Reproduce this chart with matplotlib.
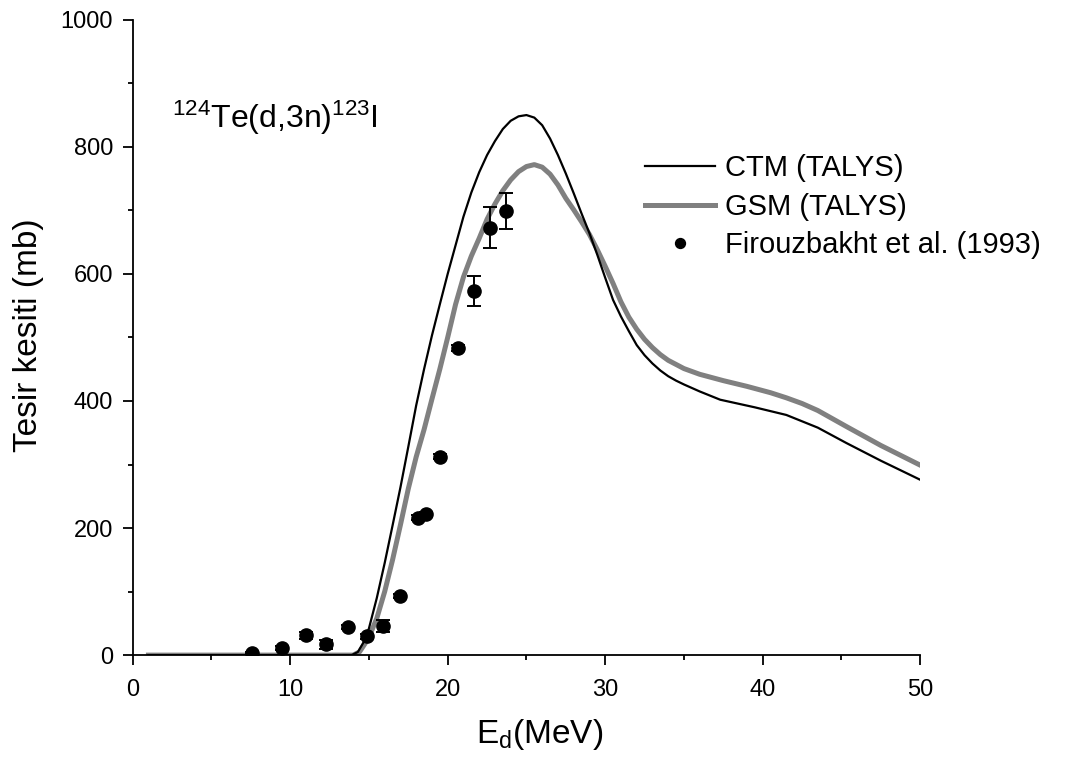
import matplotlib
matplotlib.use("Agg")
import matplotlib.pyplot as plt
from matplotlib.ticker import MultipleLocator

plt.rcParams['font.family'] = ['Liberation Sans', 'DejaVu Sans']

# CTM (TALYS) curve
ctm_e = [1, 13.9, 14.3, 14.7, 15.0, 15.5, 16.0, 16.5, 17.0, 17.5, 18.0, 18.5, 19.0, 19.5,
         20.0, 20.5, 21.0, 21.5, 22.0, 22.5, 23.0, 23.5, 24.0, 24.5, 25.0, 25.5, 26.0,
         26.5, 27.0, 27.5, 28.0, 28.5, 29.0, 29.5, 30.0, 30.5, 31.0, 31.5, 32.0, 32.5,
         33.0, 33.5, 34.0, 34.5, 35.0, 36.0, 37.3, 39.5, 41.5, 43.5, 45.3, 47.5, 50]
ctm_y = [0, 0, 5, 22, 42, 90, 145, 204, 264, 328, 393, 450, 503, 552,
         600, 645, 690, 728, 760, 787, 809, 828, 841, 848, 850, 846, 834,
         813, 787, 758, 727, 695, 664, 630, 594, 559, 533, 510, 488, 472,
         459, 448, 439, 432, 426, 415, 402, 390, 378, 358, 334, 306, 276]

# GSM (TALYS) curve
gsm_e = [1, 14.0, 14.4, 14.8, 15.2, 15.5, 16.0, 16.5, 17.0, 17.5, 18.0, 18.5, 19.0, 19.5,
         20.0, 20.5, 21.0, 21.5, 22.0, 22.5, 23.0, 23.5, 24.0, 24.5, 25.0, 25.5, 26.0,
         26.5, 27.0, 27.5, 28.0, 28.5, 29.0, 29.5, 30.0, 30.5, 31.0, 31.5, 32.0, 32.5,
         33.0, 33.5, 34.0, 35.0, 36.0, 37.5, 39.0, 40.5, 41.5, 42.5, 43.5, 45.3, 47.5, 50]
gsm_y = [0, 0, 5, 20, 40, 58, 100, 150, 205, 262, 312, 355, 403, 450,
         500, 552, 595, 628, 656, 686, 710, 731, 748, 761, 769, 772, 768,
         757, 740, 719, 701, 682, 662, 638, 612, 585, 556, 532, 513, 497,
         484, 473, 464, 451, 442, 432, 423, 413, 405, 396, 385, 360, 330, 299]

# Firouzbakht et al. (1993)
exp_e = [7.56, 9.47, 11.0, 12.3, 13.7, 14.9, 15.9, 17.0, 18.1, 18.6, 19.5, 20.63, 21.66, 22.68, 23.68]
exp_y = [3, 11, 31, 17, 44, 30, 46, 93, 216, 222, 312, 483, 573, 673, 699]
exp_err = [2, 3, 6, 7, 3, 4, 10, 3, 4, 4, 4, 5, 24, 32, 29]

fig = plt.figure(figsize=(10.7, 7.6), dpi=100)
ax = fig.add_axes([0.124, 0.138, 0.736, 0.836])

ax.plot(gsm_e, gsm_y, color='#808080', linewidth=3.6, label='GSM (TALYS)', zorder=2,
        solid_joinstyle='round')
ax.plot(ctm_e, ctm_y, color='black', linewidth=1.6, label='CTM (TALYS)', zorder=3,
        solid_joinstyle='round')
ax.errorbar(exp_e, exp_y, yerr=exp_err, fmt='none', ecolor='black', elinewidth=1.4,
            capsize=5, capthick=1.4, zorder=4)
ax.plot(exp_e, exp_y, 'o', color='black', markersize=9.5, linestyle='none',
        label='Firouzbakht et al. (1993)', zorder=5)

ax.set_xlim(0, 50)
ax.set_ylim(0, 1000)
ax.xaxis.set_major_locator(MultipleLocator(10))
ax.xaxis.set_minor_locator(MultipleLocator(5))
ax.yaxis.set_major_locator(MultipleLocator(200))
ax.yaxis.set_minor_locator(MultipleLocator(100))
ax.tick_params(which='major', direction='out', length=7, width=1.3, labelsize=17, pad=7)
ax.tick_params(axis='x', which='major', pad=10)
ax.tick_params(which='minor', direction='out', length=3.6, width=1.3)

for s in ['top', 'right']:
    ax.spines[s].set_visible(False)
for s in ['left', 'bottom']:
    ax.spines[s].set_linewidth(1.3)

ax.set_xlabel(r'$\mathregular{E_d(MeV)}$', fontsize=24)
ax.xaxis.set_label_coords(0.517, -0.097)
ax.set_ylabel('Tesir kesiti (mb)', fontsize=24)
ax.yaxis.set_label_coords(-0.112, 0.504)

ax.text(2.5, 830, r'$\mathregular{^{124}}$Te(d,3n)$\mathregular{^{123}}$I', fontsize=23,
        ha='left', va='baseline')

h, l = ax.get_legend_handles_labels()
order = [1, 0, 2]
leg = ax.legend([h[i] for i in order], [l[i] for i in order], loc='upper left',
                bbox_to_anchor=(0.603, 0.797), bbox_transform=fig.transFigure,
                frameon=False, fontsize=21, handlelength=2.4, handletextpad=0.34,
                labelspacing=0.36, markerscale=0.75, borderaxespad=0, borderpad=0)

fig.savefig('out.png', dpi=100)
